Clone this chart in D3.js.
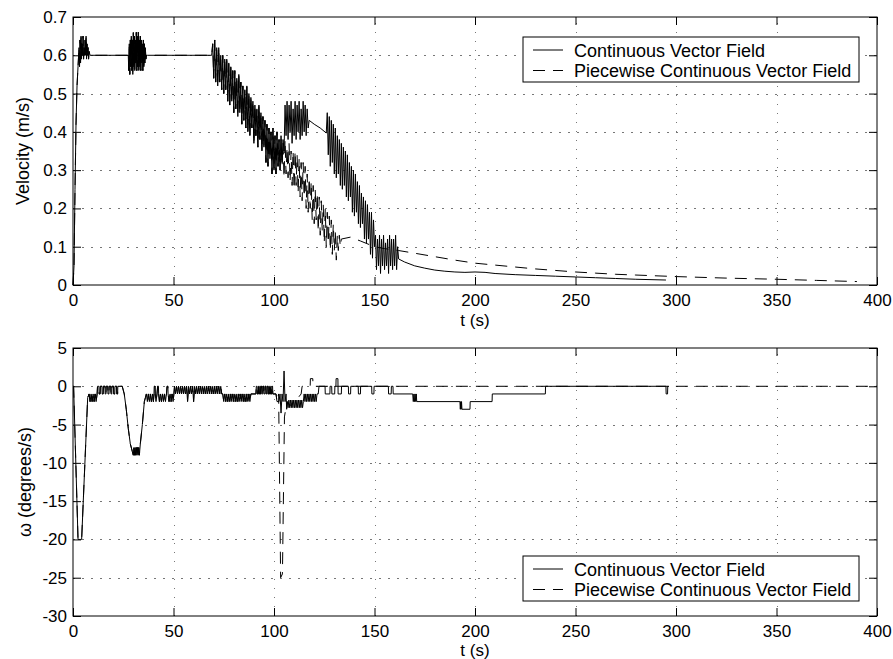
<!DOCTYPE html>
<html>
<head>
<meta charset="utf-8">
<script src="https://cdn.jsdelivr.net/npm/d3@7"></script>
<style>
  html, body { margin: 0; padding: 0; background: #fff; }
  svg { display: block; font-family: "Liberation Sans", Arial, Helvetica, sans-serif; }
  .grid line { stroke: #777; stroke-dasharray: 1.5,7.5; shape-rendering: crispEdges; }
  .ticks line { stroke: #000; }
  .ticks text { fill: #000; font-size: 17px; }
</style>
</head>
<body>
<svg id="chart" width="893" height="659"></svg>
<script>
// ---- data ----
var timeTicks = [0, 50, 100, 150, 200, 250, 300, 350, 400];
var velTicks = [0, 0.1, 0.2, 0.3, 0.4, 0.5, 0.6, 0.7];
var omegaTicks = [-30, -25, -20, -15, -10, -5, 0, 5];
var seriesNames = ['Continuous Vector Field', 'Piecewise Continuous Vector Field'];

// velocity (m/s), continuous vector field
var velCont = [
  [0,0],[0.5,0.05],[1,0.25],[1.5,0.42],[2,0.52],[2.5,0.57],
  [3,0.62],[3.25,0.57],[3.5,0.64],[3.75,0.58],[4,0.65],[4.25,0.59],[4.5,0.63],[4.75,0.6],[5,0.65],[5.25,0.59],
  [5.5,0.62],[5.75,0.6],[6,0.64],[6.25,0.6],[6.5,0.65],[6.75,0.59],[7,0.63],[7.25,0.6],[7.5,0.62],[7.75,0.59],[8,0.61],[8.5,0.6],
  [27.5,0.6],[27.75,0.56],[28,0.63],[28.25,0.55],[28.5,0.64],[28.75,0.57],[29,0.65],[29.25,0.56],[29.5,0.64],[29.75,0.55],
  [30,0.66],[30.25,0.57],[30.5,0.65],[30.75,0.56],[31,0.64],[31.25,0.58],[31.5,0.66],[31.75,0.56],[32,0.65],[32.25,0.57],
  [32.5,0.66],[32.75,0.56],[33,0.64],[33.25,0.57],[33.5,0.65],[33.75,0.56],[34,0.64],[34.25,0.58],[34.5,0.63],[34.75,0.56],
  [35,0.64],[35.25,0.57],[35.5,0.63],[35.75,0.58],[36,0.62],[36.25,0.59],[36.5,0.6],[37,0.6],
  [69,0.6],[69.5,0.63],[70,0.54],[70.5,0.64],[71,0.53],[71.5,0.62],[72,0.52],[72.5,0.62],[73,0.53],[73.5,0.6],[74,0.51],
  [74.5,0.6],[75,0.5],[75.5,0.59],[76,0.51],[76.5,0.59],[77,0.48],[77.5,0.58],[78,0.47],[78.5,0.57],[79,0.48],[79.5,0.56],
  [80,0.45],[80.5,0.56],[81,0.46],[81.5,0.54],[82,0.44],[82.5,0.55],[83,0.45],[83.5,0.53],[84,0.42],[84.5,0.52],[85,0.43],
  [85.5,0.51],[86,0.41],[86.5,0.52],[87,0.4],[87.5,0.5],[88,0.39],[88.5,0.49],[89,0.41],[89.5,0.48],[90,0.37],[90.5,0.47],
  [91,0.39],[91.5,0.46],[92,0.36],[92.5,0.47],[93,0.38],[93.5,0.45],[94,0.35],[94.5,0.44],[95,0.36],[95.5,0.43],[96,0.32],
  [96.5,0.42],[97,0.31],[97.5,0.41],[98,0.33],[98.5,0.4],[99,0.29],[99.5,0.41],[100,0.3],[100.5,0.39],[101,0.29],[101.5,0.4],
  [102,0.31],[102.5,0.38],[103,0.3],[103.5,0.39],[104,0.32],[104.5,0.38],[105,0.35],
  [105.5,0.47],[106,0.39],[106.5,0.48],[107,0.38],[107.5,0.47],[108,0.4],[108.5,0.48],[109,0.37],[109.5,0.46],[110,0.39],
  [110.5,0.48],[111,0.38],[111.5,0.47],[112,0.4],[112.5,0.48],[113,0.38],[113.5,0.46],[114,0.39],[114.5,0.48],[115,0.4],
  [115.5,0.47],[116,0.39],[116.5,0.46],[117,0.41],[117.5,0.43],[120,0.42],[123,0.41],[126,0.397],
  [126.5,0.45],[127,0.34],[127.5,0.44],[128,0.31],[128.5,0.43],[129,0.32],[129.5,0.42],[130,0.29],[130.5,0.41],[131,0.28],
  [131.5,0.39],[132,0.29],[132.5,0.38],[133,0.26],[133.5,0.37],[134,0.25],[134.5,0.36],[135,0.26],[135.5,0.35],[136,0.23],
  [136.5,0.34],[137,0.22],[137.5,0.32],[138,0.23],[138.5,0.31],[139,0.19],[139.5,0.3],[140,0.18],[140.5,0.29],[141,0.19],
  [141.5,0.27],[142,0.16],[142.5,0.26],[143,0.15],[143.5,0.24],[144,0.16],[144.5,0.23],[145,0.12],[145.5,0.22],[146,0.11],
  [146.5,0.21],[147,0.12],[147.5,0.19],[148,0.08],[148.5,0.19],[149,0.07],[149.5,0.17],[150,0.1],
  [150.5,0.13],[151,0.04],[151.5,0.12],[152,0.05],[152.5,0.13],[153,0.03],[153.5,0.12],[154,0.05],[154.5,0.13],[155,0.04],
  [155.5,0.11],[156,0.05],[156.5,0.12],[157,0.03],[157.5,0.13],[158,0.05],[158.5,0.12],[159,0.04],[159.5,0.12],[160,0.05],
  [160.5,0.13],[161,0.04],[161.5,0.1],[162,0.068],
  [165,0.06],[170,0.05],[175,0.044],[180,0.039],[185,0.036],[190,0.034],[195,0.033],[200,0.034],[205,0.033],[210,0.03],
  [220,0.027],[230,0.025],[240,0.023],[250,0.021],[260,0.019],[270,0.017],[280,0.015],[295,0.013]
];

// velocity (m/s), piecewise continuous field, after it leaves the continuous one
var velPieceTail = [
  [103.5,0.38],[104,0.31],[104.5,0.37],[105,0.28],[105.5,0.38],[106,0.29],[106.5,0.36],[107,0.28],[107.5,0.37],[108,0.27],
  [108.5,0.35],[109,0.26],[109.5,0.35],[110,0.25],[110.5,0.35],[111,0.26],[111.5,0.34],[112,0.24],[112.5,0.33],[113,0.23],
  [113.5,0.32],[114,0.22],[114.5,0.32],[115,0.23],[115.5,0.31],[116,0.2],[116.5,0.29],[117,0.19],[117.5,0.28],[118,0.2],
  [118.5,0.27],[119,0.17],[119.5,0.26],[120,0.16],[120.5,0.25],[121,0.17],[121.5,0.24],[122,0.14],[122.5,0.23],[123,0.13],
  [123.5,0.22],[124,0.14],[124.5,0.21],[125,0.11],[125.5,0.2],[126,0.1],[126.5,0.19],[127,0.11],[127.5,0.18],[128,0.09],
  [128.5,0.17],[129,0.08],[129.5,0.16],[130,0.09],[130.5,0.14],[131,0.065],[131.5,0.13],[132,0.09],[132.5,0.13],[133,0.1],
  [133.5,0.12],[138,0.125],[143,0.115],[150,0.1],[155,0.095],[162,0.09],[170,0.083],[180,0.074],[190,0.065],[200,0.057],
  [210,0.052],[220,0.047],[230,0.042],[240,0.038],[250,0.034],[260,0.031],[270,0.028],[280,0.026],[300,0.022],[325,0.018],
  [350,0.015],[370,0.012],[390,0.009]
];

// angular rate (degrees/s), continuous vector field
var omegaCont = [
  [0,0],[0.3,0],[2.5,-20],[4.3,-20],[7.3,-1.5],
  [8,-1],[8.5,-2],[9,-1],[9.5,-2],[10,-1],[10.5,-2],[11,-1],[11.5,-2],[12,-1],
  [12.2,0],[12.9,0],[13,-1],[13.5,-1],[13.6,0],[14.4,0],[14.5,-1],[15,-1],[15.1,0],[15.9,0],[16,-1],[16.4,-1],[16.5,0],
  [17.3,0],[17.4,-1],[17.9,-1],[18,0],[18.8,0],[18.9,-1],[19.3,-1],[19.4,0],[20.2,0],[20.3,-1],[20.8,-1],[20.9,0],
  [21.7,0],[21.8,-1],[22.2,-1],[22.3,0],[24.5,0],
  [25.5,-1],[26.5,-3],[27.5,-5.5],[28.5,-7.5],[29.5,-8.5],[30,-9],[30.3,-8],[30.6,-9],[30.9,-8],[31.2,-9],[31.5,-8],
  [31.8,-9],[32.1,-8],[32.4,-9],[32.7,-8],[33,-9],[33.5,-7.5],[34.5,-5],[35.5,-2],[36,-1.5],
  [36.5,-1],[37,-2],[37.5,-1],[38,-2],[38.5,-1],[39,-2],[39.5,-1],[40,-2],[40.3,-1],[40.4,0],[40.8,0],[40.9,-1],[41.3,-2],
  [41.8,-1],[42.1,0],[42.5,0],[42.6,-1],[43,-2],[43.5,-1],[44,-2],[44.5,-1],[45,-2],[45.5,-1],[46,-2],[46.5,-1],[46.8,0],
  [47.2,0],[47.3,-1],[47.8,-2],[48.3,-1],[48.8,-2],[49.3,-1],[49.8,-2],[50.2,-1],
  [50.5,0],[51,-1],[51.5,0],[52,-1],[52.5,0],[53,-1],[53.5,0],[54,-1],[54.5,0],[55,-1],[55.5,0],[56,-1],[56.5,0],[57,-2],
  [57.5,0],[58,-1],[58.5,0],[59,-1],[59.5,0],[60,-2],[60.5,0],[61,-1],[61.5,0],[62,-1],[62.5,0],[63,-1],[63.5,0],[64,-1],
  [64.5,0],[65,-1],[65.5,0],[66,-1],[66.5,0],[67,-1],[67.5,0],[68,-1],[68.5,0],[69,-1],[69.5,0],[70,-1],[70.5,0],[71,-1],
  [71.5,0],[72,-1],[72.5,0],[73,-1],[73.5,0],[74,-1],[74.5,-1],
  [75,-2],[75.5,-1],[76,-2],[76.5,-1],[77,-2],[77.5,-1],[78,-2],[78.5,-1],[79,-2],[79.5,-1],[80,-2],[80.5,-1],[81,-2],
  [81.5,-1],[82,-2],[82.5,-1],[83,-2],[83.5,-1],[84,-2],[84.5,-1],[85,-2],[85.5,-1],[86,-2],[86.5,-1],[87,-2],[87.5,-1],
  [88,-2],[88.5,-1],
  [91,-1],[91.2,0],[91.6,0],[91.7,-1],[92.2,-1],[92.3,0],[92.7,0],[92.8,-1],[93.3,-1],[93.4,0],[93.8,0],[93.9,-1],
  [94.4,-1],[94.5,0],[94.9,0],[95,-1],[95.5,-1],[95.6,0],[96,0],[96.1,-1],[96.6,-1],[96.7,0],[97.1,0],[97.2,-1],
  [97.7,-1],[97.8,0],[98.2,0],[98.3,-1],[98.8,-1],[98.9,0],[99.3,0],[99.4,-1],
  [101,-1],[101.5,-2],[102.5,-2],[103,-1],[103.5,-3.5],[104,-1],[104.5,-2],[105,2],[105.5,-2],[106,-1],[106.3,-3],
  [106.6,-2],[107,-2.8],[107.4,-1.8],[107.8,-2.8],[108.2,-1.8],[108.6,-2.8],[109,-1.8],[109.4,-2.8],[109.8,-1.8],
  [110.2,-2.8],[110.6,-1.8],[111,-2.8],[111.4,-1.8],[111.8,-2.8],[112.2,-1.8],[112.6,-2.8],[113,-1.8],[113.4,-2.8],
  [113.8,-1.8],[114.2,-2.8],[114.6,-2],
  [115,-1],[115.4,-2],[115.8,-1],[116.2,-2],[116.6,-1],[117,-2],[117.4,-1],[117.8,-2],[118.2,-1],[118.6,-2],[119,-1],
  [119.4,-2],[119.8,-1],[120.2,-2],[120.6,-1],[121,-2],[121.4,-1],[122,-1],
  [122.4,0],[125.4,0],[125.5,-1],[127.8,-1],[127.9,0],[128.7,0],[128.8,-1],[130.2,-1],[130.3,0],[130.8,0],[130.9,1],
  [131.8,1],[131.9,-1],[133.5,-1],[133.6,0],[137,0],[137.1,-1],[138.1,-1],[138.2,0],[141.9,0],[142,-1],[143,-1],[143.1,0],
  [148.6,0],[148.7,-1],[149.7,-1],[149.8,0],[156.9,0],[157,-1],[158.3,-1],[158.4,0],[159.2,0],[159.3,-1],[169,-1],
  [169.3,-2],[169.6,-1],[169.9,-2],[170.2,-1],[170.5,-2],[170.8,-1],[171,-2],[192.5,-2],[192.7,-3],[192.9,-2],[193.1,-3],
  [193.3,-2],[193.5,-3],[197.5,-3],[197.6,-2],[208.5,-2],[208.6,-1],[235,-1],[235.1,0],[295,0],[295.1,-1],[295.8,-1],
  [295.9,0],[296.5,0]
];

// angular rate (degrees/s), piecewise continuous field, after it leaves the continuous one
var omegaPieceTail = [
  [102.3,-1],[103.3,-25],[104.2,-24.5],[105.2,-4],[105.8,-3],[106.5,-2],[108,-2.5],[110,-2],[112,-1.5],[113.5,-1],
  [114,0],[118,0],[118.1,1],[119.3,1],[119.4,0],[400,0]
];

// both runs are identical until the piecewise field switches
var velPiece = velCont.filter(function(d) { return d[0] < 103.5; }).concat(velPieceTail);
var omegaPiece = omegaCont.filter(function(d) { return d[0] < 102.3; }).concat(omegaPieceTail);

// ---- layout ----
var svg = d3.select('#chart');
var plotLeft = 73, plotRight = 877;
var dashPattern = '12,8';

var x = d3.scaleLinear().domain([0, 400]).range([plotLeft, plotRight]);

function drawPanel(cfg) {
  var y = d3.scaleLinear().domain(cfg.domain).range([cfg.bottom, cfg.top]);
  var h = cfg.bottom - cfg.top, w = plotRight - plotLeft;
  var g = svg.append('g');

  // dotted grid
  g.append('g').attr('class', 'grid')
    .attr('transform', 'translate(0,' + cfg.bottom + ')')
    .call(d3.axisBottom(x).tickValues(timeTicks.slice(1, -1)).tickSize(-h).tickFormat(''))
    .call(function(s) { s.select('.domain').remove(); });
  g.append('g').attr('class', 'grid')
    .attr('transform', 'translate(' + plotLeft + ',0)')
    .call(d3.axisLeft(y).tickValues(cfg.ticks.slice(1, -1)).tickSize(-w).tickFormat(''))
    .call(function(s) { s.select('.domain').remove(); });

  // series
  var line = d3.line().x(function(d) { return x(d[0]); }).y(function(d) { return y(d[1]); });
  g.append('path').datum(cfg.dashed)
    .attr('fill', 'none').attr('stroke', '#000').attr('stroke-width', 1)
    .attr('stroke-dasharray', dashPattern).attr('d', line);
  g.append('path').datum(cfg.solid)
    .attr('fill', 'none').attr('stroke', '#000').attr('stroke-width', 1)
    .attr('stroke-linejoin', 'round').attr('d', line);

  // ticks pointing inward on all four sides
  var tickLen = 8;
  g.append('g').attr('class', 'ticks')
    .attr('transform', 'translate(0,' + cfg.bottom + ')')
    .call(d3.axisBottom(x).tickValues(timeTicks).tickSizeInner(-tickLen).tickSizeOuter(0).tickPadding(9)
      .tickFormat(function(d) { return String(d); }))
    .call(function(s) { s.select('.domain').remove(); });
  g.append('g').attr('class', 'ticks')
    .attr('transform', 'translate(0,' + cfg.top + ')')
    .call(d3.axisTop(x).tickValues(timeTicks).tickSizeInner(-tickLen).tickSizeOuter(0).tickFormat(''))
    .call(function(s) { s.select('.domain').remove(); });
  g.append('g').attr('class', 'ticks')
    .attr('transform', 'translate(' + plotLeft + ',0)')
    .call(d3.axisLeft(y).tickValues(cfg.ticks).tickSizeInner(-tickLen).tickSizeOuter(0).tickPadding(6)
      .tickFormat(cfg.format))
    .call(function(s) { s.select('.domain').remove(); });
  g.append('g').attr('class', 'ticks')
    .attr('transform', 'translate(' + plotRight + ',0)')
    .call(d3.axisRight(y).tickValues(cfg.ticks).tickSizeInner(-tickLen).tickSizeOuter(0).tickFormat(''))
    .call(function(s) { s.select('.domain').remove(); });
  g.selectAll('.ticks').attr('font-family', null).attr('font-size', null);

  // frame
  g.append('rect')
    .attr('x', plotLeft).attr('y', cfg.top).attr('width', w).attr('height', h)
    .attr('fill', 'none').attr('stroke', '#000').attr('stroke-width', 1);

  // axis titles
  g.append('text')
    .attr('x', (plotLeft + plotRight) / 2).attr('y', cfg.bottom + cfg.xTitleGap)
    .attr('text-anchor', 'middle').attr('font-size', 17).text('t (s)');
  g.append('text')
    .attr('transform', 'translate(' + cfg.yTitleX + ',' + (cfg.top + cfg.bottom) / 2 + ') rotate(-90)')
    .attr('text-anchor', 'middle').attr('font-size', 18).text(cfg.yTitle);

  // legend
  var lg = g.append('g').attr('transform', 'translate(523,' + cfg.legendTop + ')');
  lg.append('rect').attr('width', 336).attr('height', 45)
    .attr('fill', '#fff').attr('stroke', '#000').attr('stroke-width', 1);
  seriesNames.forEach(function(name, i) {
    var ly = 13 + i * 20.5;
    lg.append('line').attr('x1', 10).attr('x2', 40).attr('y1', ly).attr('y2', ly)
      .attr('stroke', '#000').attr('stroke-width', 1)
      .attr('stroke-dasharray', i === 1 ? dashPattern : null);
    lg.append('text').attr('x', 51).attr('y', ly + 6.5)
      .attr('font-size', 18).text(name);
  });
}

drawPanel({
  top: 17, bottom: 285, domain: [0, 0.7], ticks: velTicks,
  format: d3.format('~g'), solid: velCont, dashed: velPiece,
  yTitle: 'Velocity (m/s)', yTitleX: 29, xTitleGap: 41, legendTop: 37
});

drawPanel({
  top: 348, bottom: 616, domain: [-30, 5], ticks: omegaTicks,
  format: function(d) { return String(d); }, solid: omegaCont, dashed: omegaPiece,
  yTitle: 'ω (degrees/s)', yTitleX: 31, xTitleGap: 40, legendTop: 556
});
</script>
</body>
</html>
